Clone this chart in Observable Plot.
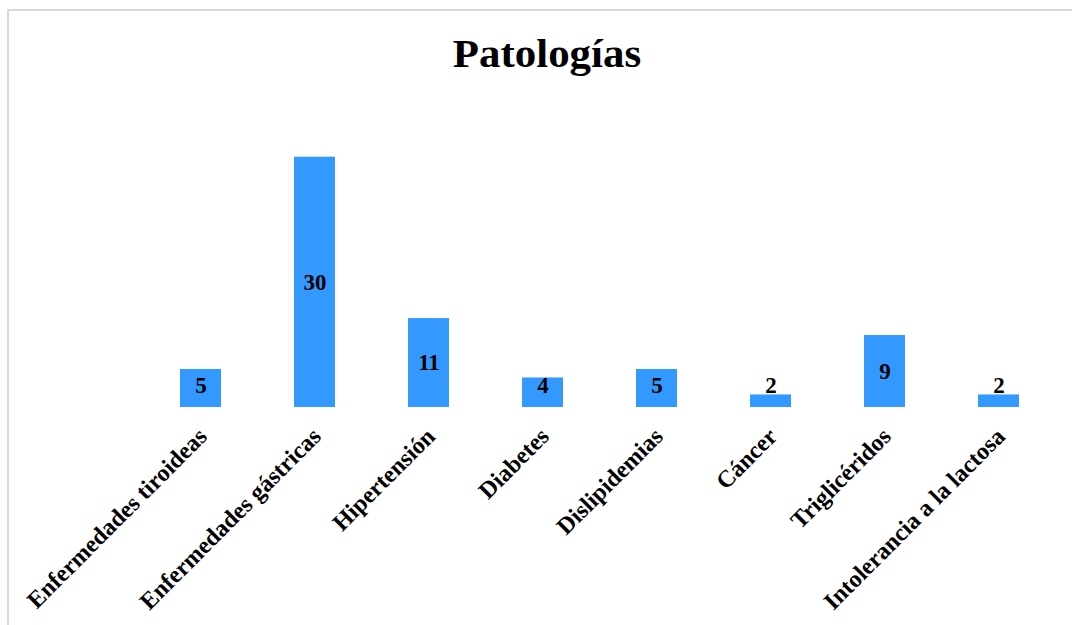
<!DOCTYPE html>
<html>
<head>
<meta charset="utf-8">
<script src="https://cdn.jsdelivr.net/npm/d3@7"></script>
<script src="https://cdn.jsdelivr.net/npm/@observablehq/plot@0.6"></script>
<style>
  html, body { margin: 0; padding: 0; background: #fff; overflow: hidden; }
  #frame { position: absolute; left: 7px; top: 9px; width: 1100px; height: 700px; border: 2px solid #d9d9d9; box-sizing: border-box; }
  #title { position: absolute; left: 547px; top: 34px; transform: translateX(-50%) scaleX(1.1); font-family: "Liberation Serif", "Times New Roman", serif; font-weight: bold; font-size: 39px; color: #000; white-space: nowrap; line-height: 1; }
  #chart { position: absolute; left: 0; top: 0; }
</style>
</head>
<body>
<div id="frame"></div>
<div id="title">Patologías</div>
<div id="chart"></div>
<script>
const categories = ["Enfermedades tiroideas", "Enfermedades gástricas", "Hipertensión", "Diabetes", "Dislipidemias", "Cáncer", "Triglicéridos", "Intolerancia a la lactosa"];
const values = [5, 30, 11, 4, 5, 2, 9, 2];
const yBase = 0.52;
const labelFloor = 3.1;

const data = categories.map((c, i) => ({category: c, value: values[i]}));

const font = "'Liberation Serif', 'Times New Roman', serif";

const chart = Plot.plot({
  width: 1072,
  height: 625,
  marginLeft: 143.5,
  marginRight: 16.5,
  marginTop: 156.7,
  marginBottom: 218,
  style: {fontFamily: font, background: "transparent", overflow: "visible"},
  x: {domain: categories, paddingInner: 0.64, paddingOuter: 0.32, align: 0.5, label: null},
  y: {domain: [yBase, 30], nice: false, axis: null},
  marks: [
    Plot.barY(data, {x: "category", y1: yBase, y2: "value", fill: "#3399ff"}),
    Plot.text(data, {
      x: "category",
      y: d => Math.max((yBase + d.value) / 2, labelFloor),
      text: d => String(d.value),
      fontSize: 23, fontWeight: "bold", fill: "#000", fontFamily: font
    }),
    Plot.axisX({
      tickSize: 0, tickRotate: -45, tickPadding: 18,
      fontSize: 24, fontWeight: "bold", fill: "#000", fontFamily: font,
      label: null, dx: 2, dy: 7
    })
  ]
});
document.getElementById("chart").appendChild(chart);
</script>
</body>
</html>
